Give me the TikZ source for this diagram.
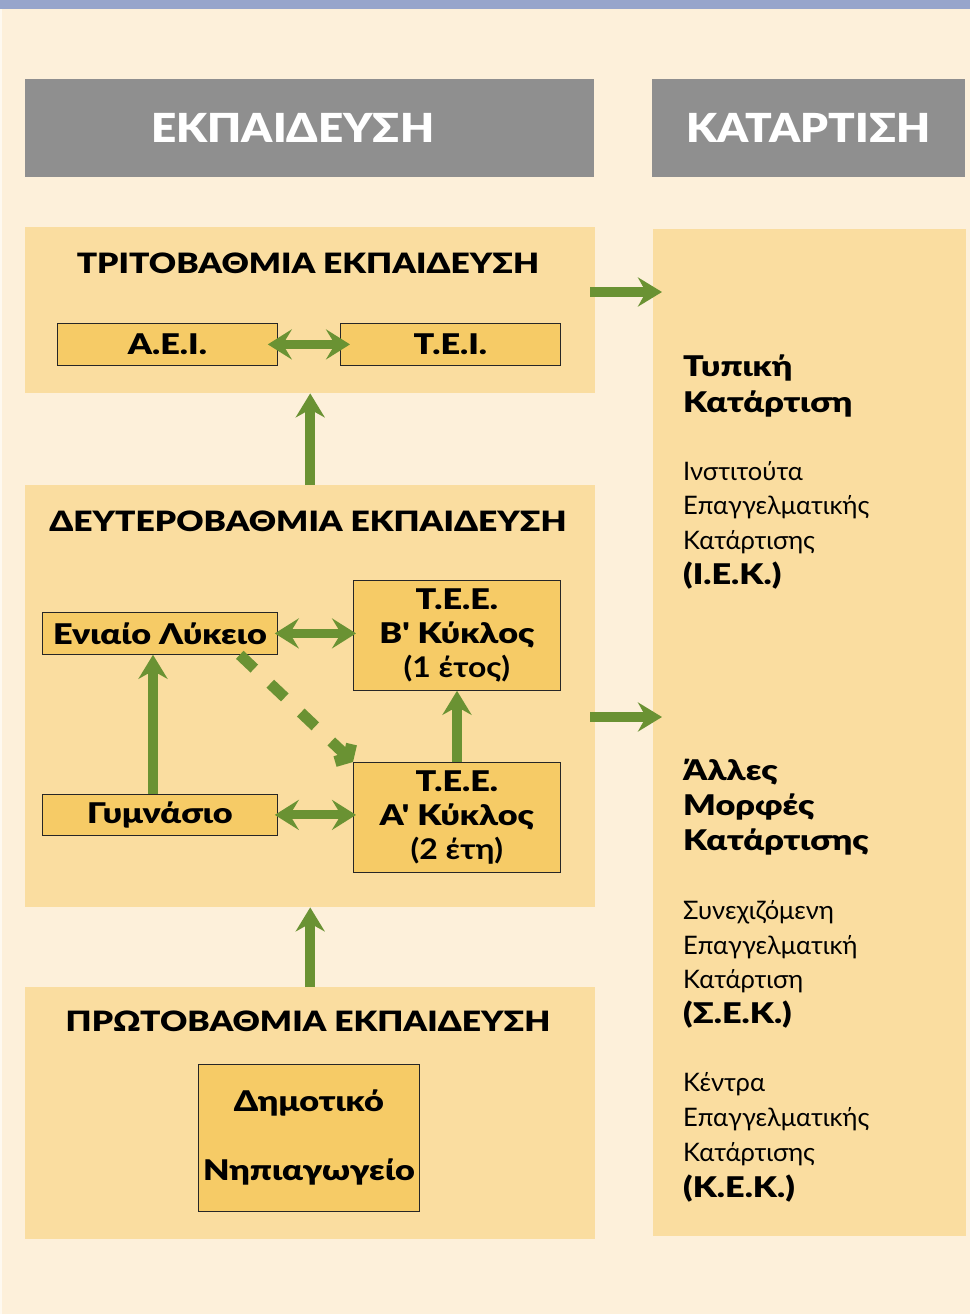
\documentclass[tikz,border=0pt]{standalone}
\usepackage{fontspec}
\setmainfont{Lato}
\newfontfamily\blk{Lato Black}[FakeStretch=1.2]
\newfontfamily\hdr{Lato Black}[FakeStretch=1.1]
\newfontfamily\bld{Lato Bold}[FakeStretch=1.12]
\usetikzlibrary{arrows.meta}
\definecolor{bgc}{HTML}{FDF0DA}
\definecolor{topc}{HTML}{97A5CB}
\definecolor{panelc}{HTML}{FADDA0}
\definecolor{boxc}{HTML}{F6CB66}
\definecolor{grayc}{HTML}{8F8F8F}
\definecolor{grn}{HTML}{6A9233}
\tikzset{
  panel/.style={fill=panelc, draw=none, inner sep=0pt, anchor=north west},
  header/.style={fill=grayc, draw=none, inner sep=0pt, anchor=north west},
  ebox/.style={fill=boxc, draw=black!85, line width=0.8pt, inner sep=0pt, anchor=north west},
  htext/.style={text=white, font=\hdr\fontsize{40}{44}\selectfont},
  ttext/.style={font=\blk\fontsize{28}{30}\selectfont},
  btext/.style={font=\blk\fontsize{28.5}{34}\selectfont, align=center},
  rbold/.style={font=\blk\fontsize{28.5}{34}\selectfont, anchor=base west, inner sep=0pt},
  rreg/.style={font=\fontsize{25.5}{34}\selectfont, anchor=base west, inner sep=0pt},
  garrow/.style={draw=grn, line width=9.5pt, -{Stealth[length=24pt,width=29pt,inset=8pt]}},
  gdarrow/.style={draw=grn, line width=9pt, {Stealth[length=24pt,width=30pt,inset=9pt]}-{Stealth[length=24pt,width=30pt,inset=9pt]}},
  gdash/.style={draw=grn, line width=11pt, dash pattern=on 20pt off 22pt, -{Straight Barb[length=7pt,width=24pt]}},
}
\begin{document}
\begin{tikzpicture}[x=1pt,y=-1pt]
\useasboundingbox (0,0) rectangle (970,1314);
\fill[bgc] (0,0) rectangle (970,1314);
\fill[white!60!bgc] (0,9) rectangle (2,1314);
\fill[topc] (0,0) rectangle (970,9);
% headers
\node[header, minimum width=569pt, minimum height=98pt] (hedu) at (25,79) {};
\node[htext] (hedut) at ([xshift=-17pt]hedu.center) {ΕΚΠΑΙΔΕΥΣΗ};
\node[header, minimum width=313pt, minimum height=98pt] (hkat) at (652,79) {};
\node[htext] (hkatt) at (hkat.center) {ΚΑΤΑΡΤΙΣΗ};
% panels
\node[panel, minimum width=570pt, minimum height=166pt] (tert) at (25,227) {};
\node[panel, minimum width=570pt, minimum height=422pt] (sec) at (25,485) {};
\node[panel, minimum width=570pt, minimum height=252pt] (prim) at (25,987) {};
\node[panel, minimum width=313pt, minimum height=1007pt] (kat) at (653,229) {};
% panel titles
\node[ttext] (tertt) at (308,263) {ΤΡΙΤΟΒΑΘΜΙΑ ΕΚΠΑΙΔΕΥΣΗ};
\node[ttext] (sect) at (308,521) {ΔΕΥΤΕΡΟΒΑΘΜΙΑ ΕΚΠΑΙΔΕΥΣΗ};
\node[ttext] (primt) at (308,1021) {ΠΡΩΤΟΒΑΘΜΙΑ ΕΚΠΑΙΔΕΥΣΗ};
% boxes
\node[ebox, minimum width=220pt, minimum height=42pt] (aei) at (57,323) {};
\node[btext] at (aei.center) {Α.Ε.Ι.};
\node[ebox, minimum width=220pt, minimum height=42pt] (tei) at (340,323) {};
\node[btext] at (tei.center) {Τ.Ε.Ι.};
\node[ebox, minimum width=235pt, minimum height=42pt] (lyk) at (42,612) {};
\node[btext] at (lyk.center) {Ενιαίο Λύκειο};
\node[ebox, minimum width=207pt, minimum height=110pt] (teeb) at (353,580) {};
\node[btext] at (teeb.center) {Τ.Ε.Ε.\\Β' Κύκλος\\{\bld (1 έτος)}};
\node[ebox, minimum width=235pt, minimum height=41pt] (gym) at (42,794) {};
\node[btext] at (gym.center) {Γυμνάσιο};
\node[ebox, minimum width=207pt, minimum height=110pt] (teea) at (353,762) {};
\node[btext] at (teea.center) {Τ.Ε.Ε.\\Α' Κύκλος\\{\bld (2 έτη)}};
\node[ebox, minimum width=221pt, minimum height=147pt] (dim) at (198,1064) {};
\node[btext, font=\blk\fontsize{28.5}{69}\selectfont] at (dim.center) {Δημοτικό\\Νηπιαγωγείο};
% right panel texts
\node[rbold] (t1) at (683,376) {Τυπική};
\node[rbold] (t2) at (683,412) {Κατάρτιση};
\node[rreg] (t3) at (683,480) {Ινστιτούτα};
\node[rreg] (t4) at (683,514) {Επαγγελματικής};
\node[rreg] (t5) at (683,549) {Κατάρτισης};
\node[rbold] (t6) at (683,584) {(Ι.Ε.Κ.)};
\node[rbold] (a1) at (683,780) {Άλλες};
\node[rbold] (a2) at (683,815) {Μορφές};
\node[rbold] (a3) at (683,850) {Κατάρτισης};
\node[rreg] (s1) at (683,919) {Συνεχιζόμενη};
\node[rreg] (s2) at (683,954) {Επαγγελματική};
\node[rreg] (s3) at (683,988) {Κατάρτιση};
\node[rbold] (s4) at (683,1023) {(Σ.Ε.Κ.)};
\node[rreg] (k1) at (683,1091) {Κέντρα};
\node[rreg] (k2) at (683,1126) {Επαγγελματικής};
\node[rreg] (k3) at (683,1161) {Κατάρτισης};
\node[rbold] (k4) at (683,1197) {(Κ.Ε.Κ.)};
% connectors
\draw[garrow] (sec.north) -- (tert.south);
\draw[garrow] (prim.north) -- (sec.south);
\coordinate (r1s) at (590,292);
\coordinate (r1e) at (662,292);
\coordinate (r2s) at (590,717);
\coordinate (r2e) at (662,717);
\draw[garrow] (r1s) -- (r1e);
\draw[garrow] (r2s) -- (r2e);
\draw[gdarrow, shorten <=-10pt, shorten >=-10pt] (aei.east) -- (tei.west);
\draw[gdarrow, shorten <=-3pt, shorten >=-3pt] (lyk.east) -- (teeb.west |- lyk.east);
\draw[gdarrow, shorten <=-3pt, shorten >=-3pt] (gym.east) -- (teea.west |- gym.east);
\draw[garrow] (gym.north -| 153,0) -- (lyk.south -| 153,0);
\draw[garrow] (teea.north -| 457,0) -- (teeb.south -| 457,0);
\draw[gdash] (lyk.-15) -- (teea.north west);
\end{tikzpicture}
\end{document}
